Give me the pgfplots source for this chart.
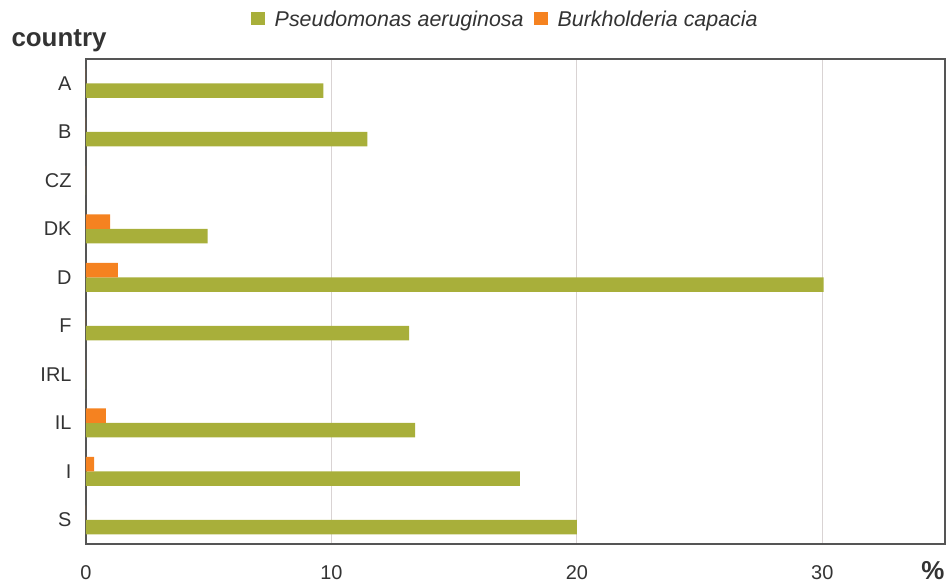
\documentclass[border=0pt]{standalone}
\usepackage{pgfplots}
\pgfplotsset{compat=1.18}
\usepackage{fontspec}
\setmainfont{Liberation Sans}
\definecolor{pagreen}{HTML}{A8AF3A}
\definecolor{bcorange}{HTML}{F58220}
\definecolor{txt}{HTML}{333333}
\definecolor{gridc}{HTML}{D9D3D3}
\definecolor{axc}{HTML}{555555}
\begin{document}
\begin{tikzpicture}
\path[use as bounding box] (-86bp,-41bp) rectangle (860bp,544bp);
\begin{axis}[
    scale only axis,
    width=859bp, height=485bp,
    xbar,
    bar width=14.5bp,
    xmin=0, xmax=35,
    ymin=-0.5, ymax=9.5,
    y dir=reverse,
    ytick={0,...,9},
    yticklabels={A,B,CZ,DK,D,F,IRL,IL,I,S},
    xtick={0,10,20,30},
    major tick length=0pt,
    xmajorgrids,
    grid style={gridc, line width=0.8bp},
    axis line style={axc, line width=1.5bp},
    tick label style={font=\fontsize{20}{22}\selectfont, text=txt},
    /pgf/number format/assume math mode=true,
    xticklabel style={yshift=-18bp},
    yticklabel style={xshift=-11bp},
    legend style={at={(axis description cs:0.488,1.0825)}, anchor=center,
        draw=none, font=\fontsize{21.5}{23}\selectfont\itshape, text=txt,
        legend columns=2, column sep=8bp},
    legend image code/.code={\fill[#1] (0bp,-6.5bp) rectangle (14bp,7bp);},
    clip=false,
]
\addplot[draw=none, fill=pagreen, bar shift=-7.25bp] coordinates {
    (9.67,0) (11.46,1) (0,2) (4.96,3) (30.05,4)
    (13.17,5) (0,6) (13.41,7) (17.68,8) (20.0,9)
};
\addlegendentry{Pseudomonas aeruginosa}
\addplot[draw=none, fill=bcorange, bar shift=7.25bp] coordinates {
    (0,0) (0,1) (0,2) (0.98,3) (1.30,4)
    (0,5) (0,6) (0.81,7) (0.33,8) (0,9)
};
\addlegendentry{Burkholderia capacia}
\node[font=\fontsize{26}{28}\selectfont\bfseries, text=txt] at (rel axis cs:0,1) [xshift=-27bp, yshift=18bp] {country};
\node[font=\fontsize{26}{28}\selectfont\bfseries, text=txt] at (rel axis cs:1,0) [xshift=-12bp, yshift=-27bp] {\%};
\end{axis}
\end{tikzpicture}
\end{document}
